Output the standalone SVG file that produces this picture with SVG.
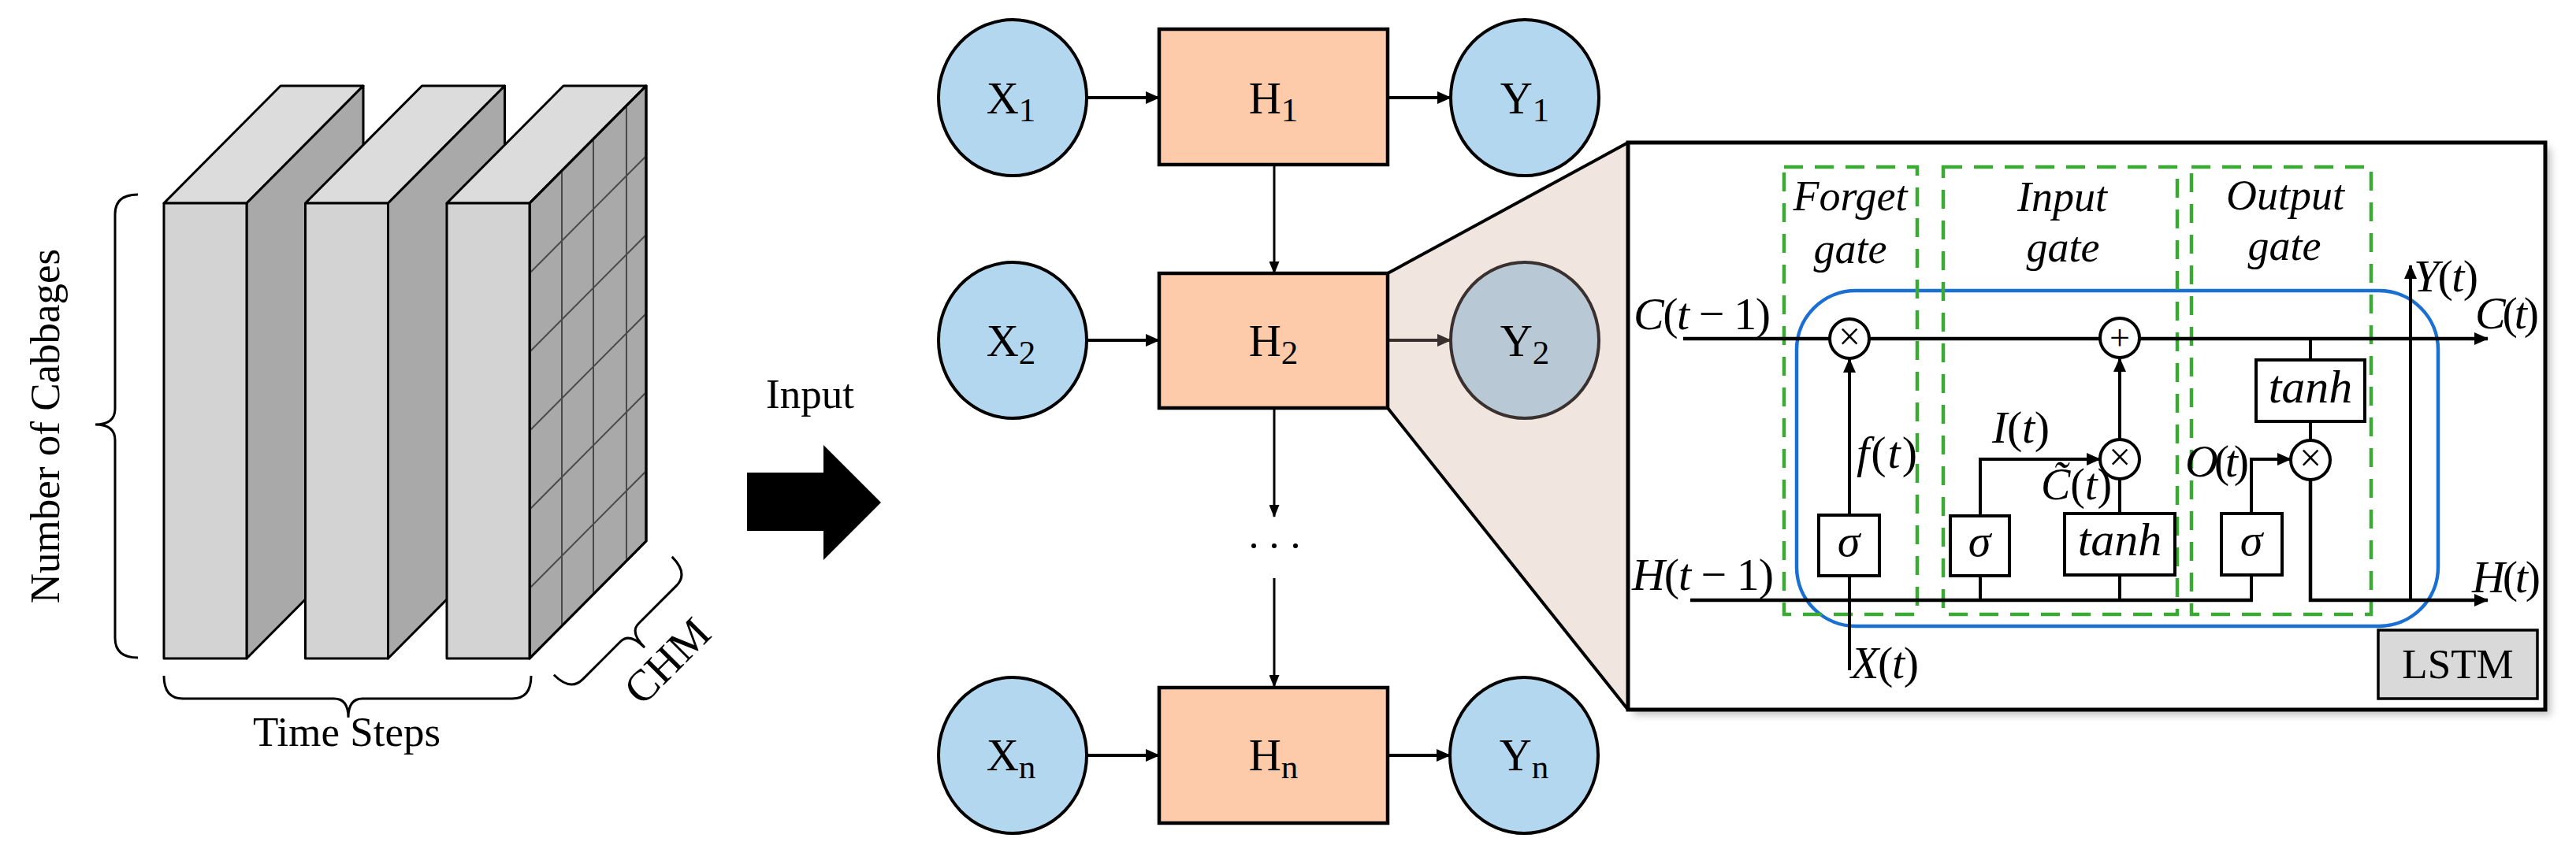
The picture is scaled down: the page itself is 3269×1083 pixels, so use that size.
<svg xmlns="http://www.w3.org/2000/svg" width="3269" height="1083" viewBox="0 0 3269 1083">
<defs>
<style>
.t{font-family:"Liberation Serif","Times New Roman",serif;fill:#000}
.m{font-family:"Liberation Serif","Times New Roman","DejaVu Serif",serif;font-style:italic;fill:#000}
.up{font-style:normal}
.edge{stroke:#000;stroke-width:3;stroke-linejoin:round}
.grid{stroke:#4a4a4a;stroke-width:2}
.brace{fill:none;stroke:#000;stroke-width:3}
.circ{fill:#b4d7f0;stroke:#000;stroke-width:4}
.hbox{fill:#fdcba9;stroke:#000;stroke-width:4.5}
.arr{fill:none;stroke:#000;stroke-width:4}
.arrv{fill:none;stroke:#000;stroke-width:3}
.ln{fill:none;stroke:#000;stroke-width:4.5}
.gate{fill:none;stroke:#3aaa35;stroke-width:4.5;stroke-dasharray:24 15}
.fn{fill:#fff;stroke:#000;stroke-width:4}
.op{fill:#fff;stroke:#000;stroke-width:4}
</style>
<marker id="ah" viewBox="0 0 18 16" markerWidth="18" markerHeight="16" refX="17" refY="8" orient="auto" markerUnits="userSpaceOnUse">
<path d="M0,0 L18,8 L0,16 z" fill="#000"/>
</marker>
<marker id="ahs" viewBox="0 0 16 13" markerWidth="16" markerHeight="13" refX="15" refY="6.5" orient="auto" markerUnits="userSpaceOnUse">
<path d="M0,0 L16,6.5 L0,13 z" fill="#000"/>
</marker>
<marker id="ahg" viewBox="0 0 18 16" markerWidth="18" markerHeight="16" refX="17" refY="8" orient="auto" markerUnits="userSpaceOnUse">
<path d="M0,0 L18,8 L0,16 z" fill="#3a302e"/>
</marker>
<filter id="sh" x="-5%" y="-5%" width="112%" height="115%">
<feGaussianBlur stdDeviation="5"/>
</filter>
</defs>
<rect x="0" y="0" width="3269" height="1083" fill="#fff"/>

<!-- Data cube -->
<g id="data-cube">
<g id="slab1">
<polygon points="208,258 356,109 461,109 313,258" fill="#dcdcdc" class="edge"/>
<polygon points="313,258 461,109 461,687 313,836" fill="#a9a9a9" class="edge"/>
<rect x="208" y="258" width="105" height="578" fill="#d3d3d3" class="edge"/>
</g>
<g id="slab2">
<polygon points="387.5,258 535.5,109 640.5,109 492.5,258" fill="#dcdcdc" class="edge"/>
<polygon points="492.5,258 640.5,109 640.5,687 492.5,836" fill="#a9a9a9" class="edge"/>
<rect x="387.5" y="258" width="105" height="578" fill="#d3d3d3" class="edge"/>
</g>
<g id="slab3">
<polygon points="567,258 715,109 820,109 672,258" fill="#dcdcdc" class="edge"/>
<polygon points="672,258 820,109 820,687 672,836" fill="#a9a9a9" class="edge"/>
<line x1="713" y1="216.7" x2="713" y2="794.7" class="grid"/>
<line x1="753" y1="176.5" x2="753" y2="754.5" class="grid"/>
<line x1="795" y1="134.2" x2="795" y2="712.2" class="grid"/>
<line x1="672" y1="347" x2="820" y2="198" class="grid"/>
<line x1="672" y1="447" x2="820" y2="298" class="grid"/>
<line x1="672" y1="547" x2="820" y2="398" class="grid"/>
<line x1="672" y1="647" x2="820" y2="498" class="grid"/>
<line x1="672" y1="747" x2="820" y2="598" class="grid"/>
<polygon points="672,258 820,109 820,687 672,836" fill="none" class="edge"/>
<rect x="567" y="258" width="105" height="578" fill="#d3d3d3" class="edge"/>
</g>
<path class="brace" d="M175,247 Q146,247 146,272 L146,519 Q146,539 121,539 Q146,539 146,559 L146,810 Q146,835 175,835"/>
<text class="t" font-size="53" text-anchor="middle" transform="translate(75,541) rotate(-90)">Number of Cabbages</text>
<path class="brace" d="M208,858 Q208,887 232,887 L424,887 Q442,887 442,911 Q442,887 460,887 L650,887 Q674,887 674,858"/>
<text class="t" font-size="53" x="440" y="947" text-anchor="middle">Time Steps</text>
<g transform="translate(799,803) rotate(-45)">
<path class="brace" d="M-106,-30 Q-106,0 -84,0 L-16,0 Q0,0 0,27 Q0,0 16,0 L84,0 Q106,0 106,-30"/>
<text class="t" font-size="56" x="8" y="78" text-anchor="middle">CHM</text>
</g>
</g>

<!-- Input arrow -->
<g id="input-arrow">
<text class="t" font-size="53" x="1028" y="518" text-anchor="middle">Input</text>
<polygon points="948,600 1045,600 1045,565 1118,638 1045,711 1045,674 948,674" fill="#000"/>
</g>

<!-- Zoom funnel -->
<g id="zoom-funnel">
<polygon points="1761,347 2066,181 2066,901 1761,518" fill="#f0e5df"/>
<line x1="1761" y1="347" x2="2066" y2="181" stroke="#000" stroke-width="4"/>
<line x1="1761" y1="518" x2="2066" y2="901" stroke="#000" stroke-width="4"/>
</g>

<!-- LSTM frame -->
<g id="lstm-cell">
<rect x="2073" y="188" width="1164" height="720" fill="#999" opacity="0.6" filter="url(#sh)"/>
<rect x="2066" y="181" width="1164" height="720" fill="#fff" stroke="#000" stroke-width="5"/>
<rect x="2280" y="369" width="814" height="426" rx="75" ry="75" fill="none" stroke="#1a6fd2" stroke-width="4.5"/>
</g>
<g id="forget-gate">
<rect x="2264" y="212" width="169" height="568" class="gate"/>
<text class="m" font-size="54" x="2348" y="267" text-anchor="middle">Forget</text>
<text class="m" font-size="54" x="2348" y="334" text-anchor="middle">gate</text>
</g>
<g id="input-gate">
<rect x="2466" y="212" width="297" height="568" class="gate"/>
<text class="m" font-size="54" x="2617" y="268" text-anchor="middle">Input</text>
<text class="m" font-size="54" x="2618" y="332" text-anchor="middle">gate</text>
</g>
<g id="output-gate">
<rect x="2781" y="212" width="228" height="568" class="gate"/>
<text class="m" font-size="54" x="2900" y="266" text-anchor="middle">Output</text>
<text class="m" font-size="54" x="2899" y="330" text-anchor="middle">gate</text>
</g>

<!-- Connectors -->
<g id="connectors">
<line x1="1379" y1="124" x2="1471" y2="124" class="arr" marker-end="url(#ah)"/>
<line x1="1761" y1="124" x2="1841" y2="124" class="arr" marker-end="url(#ah)"/>
<line x1="1379" y1="432" x2="1471" y2="432" class="arr" marker-end="url(#ah)"/>
<line x1="1761" y1="432" x2="1841" y2="432" fill="none" stroke="#3a302e" stroke-width="4" marker-end="url(#ahg)"/>
<line x1="1378" y1="959" x2="1471" y2="959" class="arr" marker-end="url(#ah)"/>
<line x1="1761" y1="959" x2="1840" y2="959" class="arr" marker-end="url(#ah)"/>
<line x1="1617" y1="209" x2="1617" y2="347" class="arrv" marker-end="url(#ahs)"/>
<line x1="1617" y1="518" x2="1617" y2="656" class="arrv" marker-end="url(#ahs)"/>
<line x1="1617" y1="734" x2="1617" y2="872" class="arrv" marker-end="url(#ahs)"/>

<line x1="2136" y1="430" x2="3157" y2="430" class="ln" marker-end="url(#ah)"/>
<line x1="2347" y1="654" x2="2347" y2="456" class="arr" marker-end="url(#ah)"/>
<line x1="2347" y1="851" x2="2347" y2="731" class="arr"/>
<path d="M2513,656 V583 H2665" class="arr" marker-end="url(#ah)"/>
<line x1="2690" y1="652" x2="2690" y2="608" class="arr"/>
<line x1="2690" y1="558" x2="2690" y2="455" class="arr" marker-end="url(#ah)"/>
<line x1="2145" y1="762" x2="2859" y2="762" class="ln"/>
<line x1="2513" y1="731" x2="2513" y2="762" class="arr"/>
<line x1="2690" y1="730" x2="2690" y2="762" class="arr"/>
<line x1="2857" y1="730" x2="2857" y2="762" class="arr"/>
<path d="M2857,652 V583 H2907" class="arr" marker-end="url(#ah)"/>
<line x1="2932" y1="430" x2="2932" y2="457" class="arr"/>
<line x1="2932" y1="535" x2="2932" y2="559" class="arr"/>
<path d="M2932,609 V762 H3157" class="ln" marker-end="url(#ah)"/>
<line x1="3059" y1="762" x2="3059" y2="337" class="arr" marker-end="url(#ah)"/>
</g>

<!-- RNN nodes -->
<g id="X1"><ellipse cx="1285" cy="124" rx="94" ry="99" class="circ"/><text class="t" font-size="57" x="1283" y="144" text-anchor="middle">X<tspan font-size="43" dy="10">1</tspan></text></g>
<g id="H1"><rect x="1471" y="37" width="290" height="172" class="hbox"/><text class="t" font-size="57" x="1616" y="144" text-anchor="middle">H<tspan font-size="43" dy="10">1</tspan></text></g>
<g id="Y1"><ellipse cx="1935" cy="124" rx="94" ry="99" class="circ"/><text class="t" font-size="57" x="1935" y="144" text-anchor="middle">Y<tspan font-size="43" dy="10">1</tspan></text></g>
<g id="X2"><ellipse cx="1285" cy="432" rx="94" ry="99" class="circ"/><text class="t" font-size="57" x="1283" y="452" text-anchor="middle">X<tspan font-size="43" dy="10">2</tspan></text></g>
<g id="H2"><rect x="1471" y="347" width="290" height="171" class="hbox"/><text class="t" font-size="57" x="1616" y="452" text-anchor="middle">H<tspan font-size="43" dy="10">2</tspan></text></g>
<g id="Y2"><ellipse cx="1935" cy="432" rx="94" ry="99" fill="#b9c8d5" stroke="#3a302e" stroke-width="4"/><text class="t" font-size="57" x="1935" y="452" text-anchor="middle" fill="#1e1a1a">Y<tspan font-size="43" dy="10">2</tspan></text></g>
<g id="dots"><circle cx="1591" cy="693" r="3" fill="#000"/><circle cx="1617" cy="693" r="3" fill="#000"/><circle cx="1644" cy="693" r="3" fill="#000"/></g>
<g id="Xn"><ellipse cx="1285" cy="959" rx="94" ry="99" class="circ"/><text class="t" font-size="57" x="1283" y="978" text-anchor="middle">X<tspan font-size="43" dy="10">n</tspan></text></g>
<g id="Hn"><rect x="1471" y="873" width="290" height="172" class="hbox"/><text class="t" font-size="57" x="1616" y="978" text-anchor="middle">H<tspan font-size="43" dy="10">n</tspan></text></g>
<g id="Yn"><ellipse cx="1934" cy="959" rx="94" ry="99" class="circ"/><text class="t" font-size="57" x="1934" y="978" text-anchor="middle">Y<tspan font-size="43" dy="10">n</tspan></text></g>

<!-- LSTM nodes -->
<g id="forget-mul"><circle cx="2347" cy="430" r="25" class="op"/><text class="t" font-size="50" x="2347" y="444" text-anchor="middle">×</text></g>
<g id="input-mul"><circle cx="2690" cy="583" r="25" class="op"/><text class="t" font-size="50" x="2690" y="597" text-anchor="middle">×</text></g>
<g id="cell-add"><circle cx="2690" cy="429" r="25" class="op"/><text class="t" font-size="46" x="2690" y="444" text-anchor="middle">+</text></g>
<g id="output-mul"><circle cx="2932" cy="584" r="25" class="op"/><text class="t" font-size="50" x="2932" y="598" text-anchor="middle">×</text></g>
<g id="forget-sigma"><rect x="2308" y="654" width="77" height="77" class="fn"/><text class="m" font-size="58" x="2346" y="706" text-anchor="middle">σ</text></g>
<g id="input-sigma"><rect x="2475" y="655" width="75" height="76" class="fn"/><text class="m" font-size="58" x="2512" y="706" text-anchor="middle">σ</text></g>
<g id="input-tanh"><rect x="2620" y="652" width="140" height="78" class="fn"/><text class="m" font-size="60" x="2690" y="705" text-anchor="middle">tanh</text></g>
<g id="output-sigma"><rect x="2819" y="652" width="77" height="78" class="fn"/><text class="m" font-size="58" x="2857" y="705" text-anchor="middle">σ</text></g>
<g id="output-tanh"><rect x="2863" y="457" width="138" height="78" class="fn"/><text class="m" font-size="60" x="2932" y="511" text-anchor="middle">tanh</text></g>
<g id="lstm-label"><rect x="3018" y="800" width="202" height="87" fill="#d9d9d9" stroke="#000" stroke-width="3.5"/><text class="t" font-size="53" x="3119" y="861" text-anchor="middle">LSTM</text></g>

<!-- LSTM labels -->
<g id="lstm-labels">
<text class="m" font-size="58" x="2073" y="418" textLength="174">C<tspan class="up">(</tspan>t<tspan class="up"> − 1)</tspan></text>
<text class="m" font-size="58" x="2071" y="749" textLength="180">H<tspan class="up">(</tspan>t<tspan class="up"> − 1)</tspan></text>
<text class="m" font-size="58" x="2356" y="594" textLength="77">f<tspan class="up">(</tspan>t<tspan class="up">)</tspan></text>
<text class="m" font-size="58" x="2528" y="562" textLength="73">I<tspan class="up">(</tspan>t<tspan class="up">)</tspan></text>
<text class="m" font-size="56" x="2590" y="634">C&#x303;<tspan class="up">(</tspan>t<tspan class="up">)</tspan></text>
<text class="m" font-size="58" x="2773" y="605" textLength="81">O<tspan class="up">(</tspan>t<tspan class="up">)</tspan></text>
<text class="m" font-size="58" x="3063" y="370" textLength="82">Y<tspan class="up">(</tspan>t<tspan class="up">)</tspan></text>
<text class="m" font-size="58" x="3141" y="417" textLength="81">C<tspan class="up">(</tspan>t<tspan class="up">)</tspan></text>
<text class="m" font-size="58" x="3137" y="752" textLength="87">H<tspan class="up">(</tspan>t<tspan class="up">)</tspan></text>
<text class="m" font-size="58" x="2349" y="861" textLength="86">X<tspan class="up">(</tspan>t<tspan class="up">)</tspan></text>
</g>
</svg>
